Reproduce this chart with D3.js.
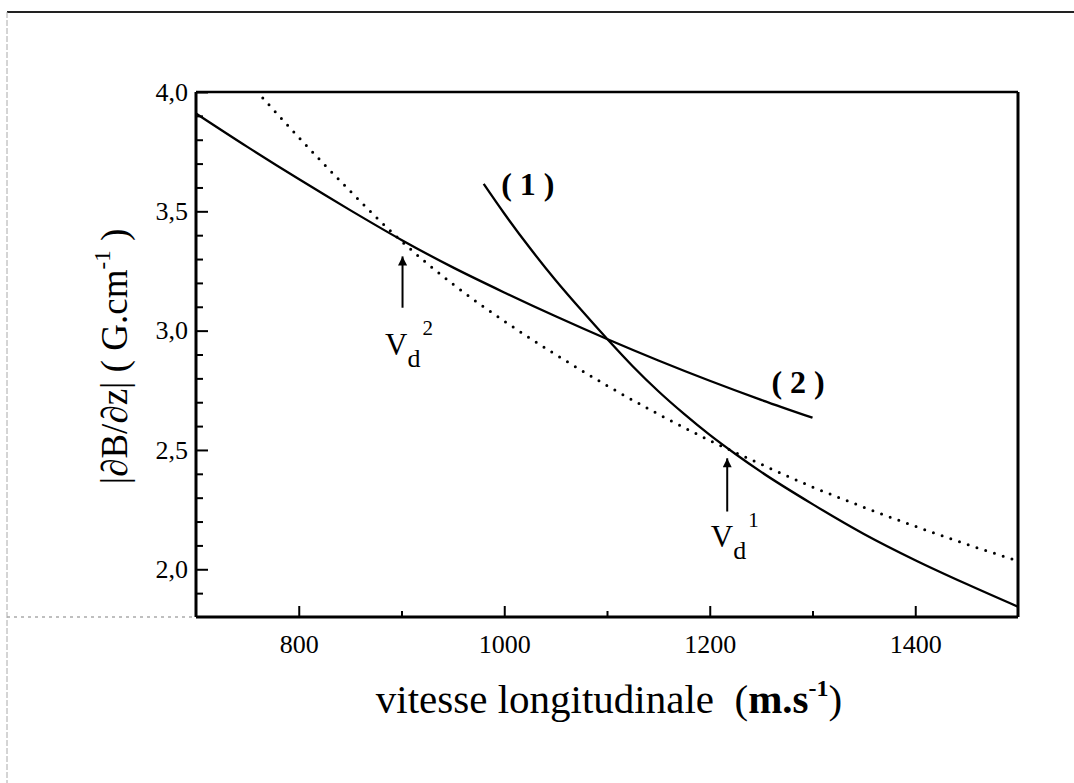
<!DOCTYPE html>
<html><head><meta charset="utf-8">
<script src="https://cdn.jsdelivr.net/npm/d3@7"></script>
<style>
body{margin:0;background:#fff}
svg{display:block}
text{font-family:"Liberation Serif","Times New Roman",Times,serif;fill:#000}
</style>
</head><body>
<svg id="c" width="1074" height="783"></svg>
<script>
// ---- data ----
const curve2V = [700, 750, 800, 850, 900, 950, 1000, 1050, 1100, 1150, 1200, 1250, 1300];
const curve2B = [3.91, 3.77, 3.635, 3.505, 3.38, 3.265, 3.16, 3.06, 2.965, 2.875, 2.79, 2.71, 2.635];
const curve1V = [980, 1000, 1025, 1050, 1075, 1100, 1125, 1150, 1175, 1200, 1225, 1250, 1300, 1350, 1400, 1450, 1500];
const curve1B = [3.615, 3.491, 3.346, 3.211, 3.086, 2.966, 2.851, 2.746, 2.651, 2.563, 2.483, 2.408, 2.273, 2.148, 2.038, 1.938, 1.843];
const dottedV = [765, 800, 850, 900, 950, 1000, 1050, 1100, 1150, 1200, 1250, 1300, 1350, 1400, 1450, 1500];
const dottedB = [3.975, 3.81, 3.585, 3.375, 3.195, 3.04, 2.90, 2.77, 2.65, 2.54, 2.44, 2.345, 2.26, 2.18, 2.105, 2.035];

const xMajorTicks = [800, 1000, 1200, 1400];
const xMinorTicks = [900, 1100, 1300];
const yMajorTicks = [2.0, 2.5, 3.0, 3.5, 4.0];
const yMinorTicks = [1.9, 2.1, 2.2, 2.3, 2.4, 2.6, 2.7, 2.8, 2.9, 3.1, 3.2, 3.3, 3.4, 3.6, 3.7, 3.8, 3.9];

const curveLabelText = ["( 1 )", "( 2 )"];
const curveLabelV = [997, 1260];
const curveLabelB = [3.57, 2.74];

// V_d arrows: [V_d^1, V_d^2]
const vdSup = ["1", "2"];
const vdV = [1217, 901];
const vdFrom = [2.242, 3.096];
const vdTo = [2.465, 3.311];
const vdLabelV = [1201, 884];
const vdLabelB = [2.095, 2.899];

const xDomain = [700, 1500];
const yDomain = [1.8, 4.0];
const xTitle = "vitesse longitudinale";
const xUnit = "m.s";
const yTitle = "|\u2202B/\u2202z| ( G.cm";

// ---- layout ----
const L = 196, R = 1018, T = 92, B = 617;
const svg = d3.select("#c");
const x = d3.scaleLinear().domain(xDomain).range([L, R]);
const y = d3.scaleLinear().domain(yDomain).range([B, T]);
const fmtY = d => d.toFixed(1).replace(".", ",");

// outer frame (scan border)
svg.append("line").attr("x1", 7).attr("x2", 1074).attr("y1", 12).attr("y2", 12)
  .attr("stroke", "#222").attr("stroke-width", 2);
svg.append("line").attr("x1", 7).attr("x2", 7).attr("y1", 12).attr("y2", 783)
  .attr("stroke", "#aaa").attr("stroke-width", 1).attr("stroke-dasharray", "6,2");
svg.append("line").attr("x1", 7).attr("x2", L).attr("y1", B).attr("y2", B)
  .attr("stroke", "#aaa").attr("stroke-width", 1.5).attr("stroke-dasharray", "3,4");

// axes (ticks inward)
const gx = svg.append("g").attr("transform", `translate(0,${B})`)
  .call(d3.axisBottom(x).tickValues(xMajorTicks).tickSize(-11).tickSizeOuter(0).tickPadding(18).tickFormat(d3.format("d")));
const gxm = svg.append("g").attr("transform", `translate(0,${B})`)
  .call(d3.axisBottom(x).tickValues(xMinorTicks).tickSize(-6).tickSizeOuter(0).tickFormat(""));
const gy = svg.append("g").attr("transform", `translate(${L},0)`)
  .call(d3.axisLeft(y).tickValues(yMajorTicks).tickSize(-12).tickSizeOuter(0).tickPadding(8).tickFormat(fmtY));
const gym = svg.append("g").attr("transform", `translate(${L},0)`)
  .call(d3.axisLeft(y).tickValues(yMinorTicks).tickSize(-7).tickSizeOuter(0).tickFormat(""));
[gx, gxm, gy, gym].forEach(g => {
  g.select(".domain").remove();
  g.selectAll(".tick line").attr("stroke", "#000").attr("stroke-width", 2);
  g.selectAll("text").attr("font-size", 26).attr("font-family", '"Liberation Serif","Times New Roman",serif').attr("fill", "#000");
});

// plot frame
svg.append("line").attr("x1", L).attr("x2", R).attr("y1", T).attr("y2", T).attr("stroke", "#000").attr("stroke-width", 2.5);
svg.append("line").attr("x1", R).attr("x2", R).attr("y1", T).attr("y2", B).attr("stroke", "#000").attr("stroke-width", 3);
svg.append("line").attr("x1", L).attr("x2", L).attr("y1", T).attr("y2", B).attr("stroke", "#000").attr("stroke-width", 3);
svg.append("line").attr("x1", L).attr("x2", R).attr("y1", B).attr("y2", B).attr("stroke", "#000").attr("stroke-width", 3);

// curves
const line = d3.line().x(d => x(d[0])).y(d => y(d[1])).curve(d3.curveMonotoneX);
const zip = (a, b) => a.map((v, i) => [v, b[i]]);
svg.append("path").datum(zip(dottedV, dottedB)).attr("d", line)
  .attr("fill", "none").attr("stroke", "#000").attr("stroke-width", 3)
  .attr("stroke-linecap", "round").attr("stroke-dasharray", "0,9.2");
svg.append("path").datum(zip(curve2V, curve2B)).attr("d", line)
  .attr("fill", "none").attr("stroke", "#000").attr("stroke-width", 2.3);
svg.append("path").datum(zip(curve1V, curve1B)).attr("d", line)
  .attr("fill", "none").attr("stroke", "#000").attr("stroke-width", 2.3);

// curve labels
svg.selectAll("text.cl").data(curveLabelText).join("text").attr("class", "cl")
  .attr("x", (d, i) => x(curveLabelV[i])).attr("y", (d, i) => y(curveLabelB[i]))
  .attr("font-size", 32).attr("font-weight", "bold").attr("xml:space", "preserve")
  .style("white-space", "pre").text(d => d);

// arrows
const defs = svg.append("defs");
defs.append("marker").attr("id", "ah").attr("viewBox", "0 0 10 10").attr("refX", 10).attr("refY", 5)
  .attr("markerWidth", 15).attr("markerHeight", 9).attr("markerUnits", "userSpaceOnUse").attr("orient", "auto")
  .append("path").attr("d", "M0,0L10,5L0,10Z").attr("fill", "#000");
vdV.forEach((v, i) => {
  svg.append("line").attr("x1", x(v)).attr("x2", x(v)).attr("y1", y(vdFrom[i])).attr("y2", y(vdTo[i]))
    .attr("stroke", "#000").attr("stroke-width", 2).attr("marker-end", "url(#ah)");
  const t = svg.append("text").attr("x", x(vdLabelV[i])).attr("y", y(vdLabelB[i])).attr("font-size", 31);
  t.append("tspan").text("V");
  t.append("tspan").attr("font-size", 26).attr("dy", 12).text("d");
  t.append("tspan").attr("font-size", 21).attr("dx", 2).attr("dy", -32).text(vdSup[i]);
});

// x title
const xt = svg.append("text").attr("x", (L + R) / 2 + 2).attr("y", 713).attr("text-anchor", "middle").attr("font-size", 41);
xt.append("tspan").text(xTitle + "\u00a0\u00a0(");
xt.append("tspan").attr("font-weight", "bold").text(xUnit);
xt.append("tspan").attr("font-weight", "bold").attr("font-size", 24).attr("dy", -17).text("-1");
xt.append("tspan").attr("dy", 17).text(")");

// y title
const yt = svg.append("text").attr("transform", `translate(127,${(T + B) / 2 + 2}) rotate(-90)`)
  .attr("text-anchor", "middle").attr("font-size", 37);
yt.append("tspan").text(yTitle);
yt.append("tspan").attr("font-size", 23).attr("dy", -17).text("-1");
yt.append("tspan").attr("dy", 17).text(" )");
</script>
</body></html>
